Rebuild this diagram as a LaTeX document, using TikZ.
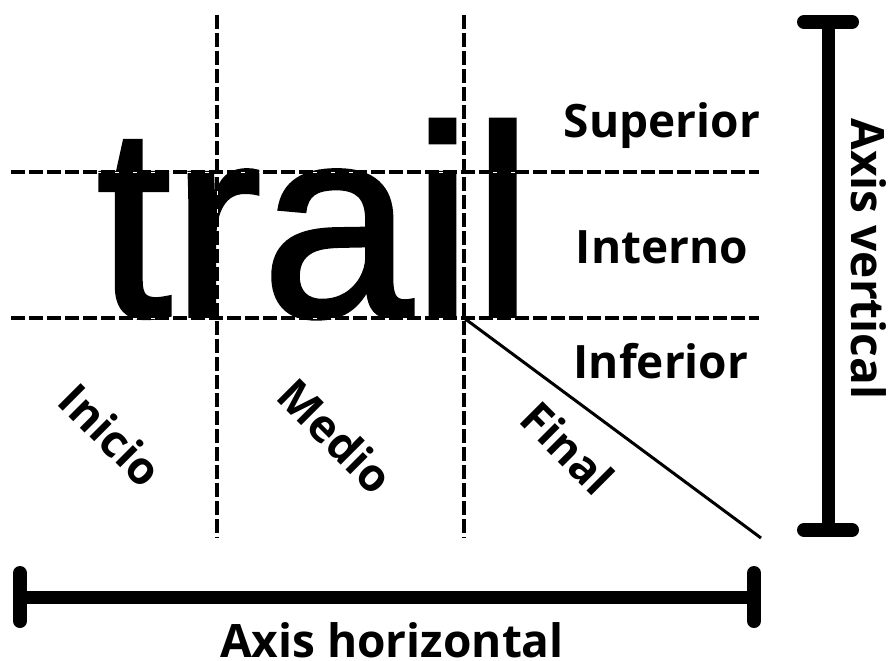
\documentclass[tikz,border=0pt]{standalone}
\usepackage{fontspec}
\newfontfamily\lblfont{Open Sans}
\newfontfamily\wordfont[FakeBold=1.5]{Liberation Sans}
\usetikzlibrary{positioning}

\begin{document}
\begin{tikzpicture}[x=1pt,y=-1pt,
  guide/.style={line width=3.5pt,dash pattern=on 14pt off 4pt,preaction={draw=white,solid}},
  axisbar/.style={line width=13pt},
  axiscap/.style={line width=14pt,line cap=round},
  lbl/.style={inner sep=0pt,font=\lblfont\bfseries\fontsize{46}{50}\selectfont},
  zone/.style={inner sep=0pt,rotate=-45,font=\lblfont\bfseries\fontsize{45}{49}\selectfont}]
\useasboundingbox (0,0) rectangle (892,661);
% the word
\node[anchor=base west,inner sep=0pt,font=\wordfont\fontsize{271}{280}\selectfont] (word) at (96,316) {trail};
% guide lines
\coordinate (upL) at (11,172);
\coordinate (upR) at (759,172);
\coordinate (lowL) at (11,318);
\coordinate (lowR) at (759,318);
\coordinate (colAT) at (217,15);
\coordinate (colAB) at (217,538);
\coordinate (colBT) at (464,15);
\coordinate (colBB) at (464,538);
\coordinate (corner) at (761,538);
\draw[guide] (colAT) -- (colAB);
\draw[guide] (colBT) -- (colBB);
\draw[guide] (upL) -- (upR);
\draw[guide] (lowL) -- (lowR);
\draw[line width=3pt] (colBT |- lowL) -- (corner);
% vertical zones
\node[lbl,anchor=base] (sup) at (662,137) {Superior};
\node[lbl,anchor=base] (int) at (662,263) {Interno};
\node[lbl,anchor=base] (inf) at (661,378) {Inferior};
% horizontal zones
\node[zone] (ini) at (111,435) {Inicio};
\node[zone] (med) at (336,436) {Medio};
\node[zone] (fin) at (568,448) {Final};
% vertical axis
\coordinate (vtop) at (828,22);
\coordinate (vbot) at (828,530);
\draw[axisbar] (vtop) -- (vbot);
\draw[axiscap] ([xshift=-24pt]vtop) -- ([xshift=24pt]vtop);
\draw[axiscap] ([xshift=-24pt]vbot) -- ([xshift=24pt]vbot);
\node[lbl,rotate=-90,anchor=base] (vlabel) at (851,259) {Axis vertical};
% horizontal axis
\coordinate (hleft) at (20,597);
\coordinate (hright) at (754,597);
\draw[axisbar] (hleft) -- (hright);
\draw[axiscap] ([yshift=-24pt]hleft) -- ([yshift=24pt]hleft);
\draw[axiscap] ([yshift=-24pt]hright) -- ([yshift=24pt]hright);
\node[lbl,anchor=base] (hlabel) at (392,657) {Axis horizontal};
\end{tikzpicture}
\end{document}
